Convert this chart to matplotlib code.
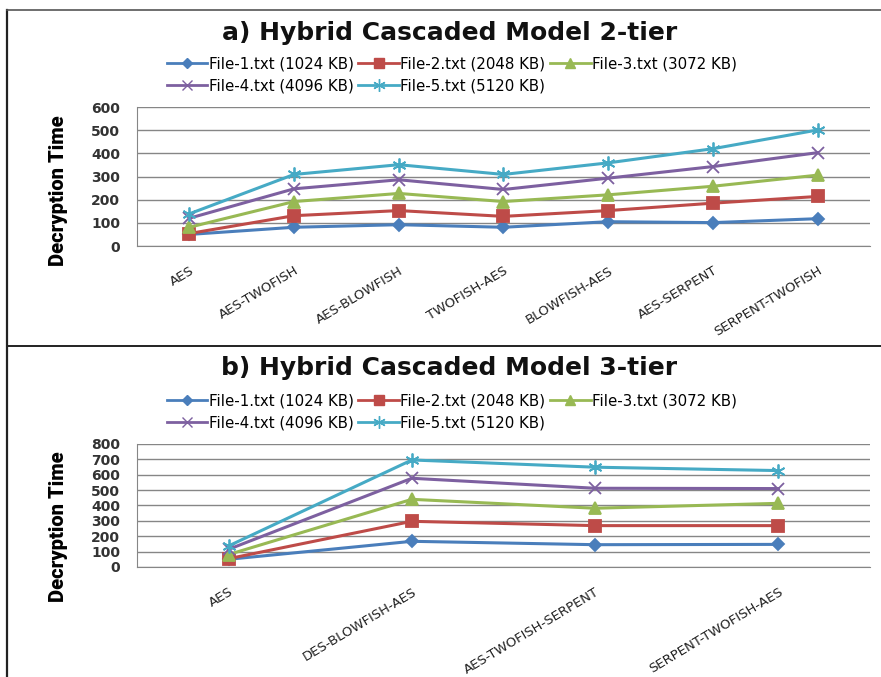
import numpy as np
import matplotlib
matplotlib.use("Agg")
import matplotlib.pyplot as plt
from matplotlib.lines import Line2D

plt.rcParams['font.family'] = ['DejaVu Sans']

# data
files = ['File-1.txt (1024 KB)', 'File-2.txt (2048 KB)', 'File-3.txt (3072 KB)',
         'File-4.txt (4096 KB)', 'File-5.txt (5120 KB)']

cats_2tier = ['AES', 'AES-TWOFISH', 'AES-BLOWFISH', 'TWOFISH-AES',
              'BLOWFISH-AES', 'AES-SERPENT', 'SERPENT-TWOFISH']
file1_2tier = [50, 81, 92, 81, 105, 101, 118]
file2_2tier = [54, 131, 153, 128, 153, 185, 214]
file3_2tier = [81, 192, 227, 192, 221, 258, 306]
file4_2tier = [120, 247, 286, 244, 293, 343, 403]
file5_2tier = [139, 309, 351, 309, 359, 420, 501]

cats_3tier = ['AES', 'DES-BLOWFISH-AES', 'AES-TWOFISH-SERPENT', 'SERPENT-TWOFISH-AES']
file1_3tier = [50, 167, 145, 147]
file2_3tier = [54, 297, 269, 269]
file3_3tier = [81, 440, 382, 414]
file4_3tier = [115, 577, 512, 510]
file5_3tier = [137, 696, 649, 627]

colors = ['#4A7EBB', '#BE4B48', '#98B954', '#7D60A0', '#46AAC5']
markers = ['D', 's', '^', 'x', (6, 2, 0)]
msizes = [6, 8, 8, 8, 10]


def draw_panel(fig, rect, cats, series, ymax, title, title_y, legend_y, ylab_y):
    ax = fig.add_axes(rect)
    x = np.arange(len(cats))
    for vals, c, m, ms in zip(series, colors, markers, msizes):
        ax.plot(x, vals, color=c, lw=2.2, marker=m, ms=ms,
                mew=1.3, mec=c, mfc=c)
    ax.set_xlim(-0.5, len(cats) - 0.5)
    ax.set_ylim(0, ymax)
    ax.set_yticks(np.arange(0, ymax + 1, 100))
    ax.yaxis.grid(True, color='#868686', lw=1)
    ax.set_axisbelow(True)
    for s in ['top', 'right']:
        ax.spines[s].set_visible(False)
    for s in ['left', 'bottom']:
        ax.spines[s].set_color('#868686')
    ax.set_xticks(x)
    ax.set_xticklabels(cats, rotation=31, ha='right', va='top',
                       rotation_mode='anchor', fontsize=9.5, color='#222222')
    ax.set_yticklabels([str(v) for v in ax.get_yticks().astype(int)],
                       fontsize=10, fontweight='bold', color='#333333')
    ax.tick_params(axis='both', length=0)
    ax.tick_params(axis='x', pad=13)
    ax.tick_params(axis='y', pad=12)
    ax.set_ylabel('Decryption Time', fontsize=14.5, fontweight='black',
                  family=['Roboto', 'DejaVu Sans'])
    ax.yaxis.set_label_coords(-0.094, ylab_y)
    fig.text(0.51, title_y, title, ha='center', va='center',
             fontsize=18, fontweight='bold', color='#111111')
    order = [0, 3, 1, 4, 2]
    leg_handles = [Line2D([], [], color=colors[i], lw=2, marker=markers[i],
                          ms=msizes[i] - 1, mec=colors[i], mfc=colors[i])
                   for i in order]
    fig.legend(leg_handles, [files[i] for i in order], ncol=3,
               loc='center', bbox_to_anchor=(0.513, legend_y), frameon=False,
               fontsize=10.8, handlelength=2.7, handletextpad=0.1,
               columnspacing=0.3, labelspacing=0.45, borderpad=0)
    return ax


fig = plt.figure(figsize=(8.81, 6.77), dpi=100)

draw_panel(fig, [0.1555, 0.6366, 0.832, 0.2053], cats_2tier,
           [file1_2tier, file2_2tier, file3_2tier, file4_2tier, file5_2tier],
           600, 'a) Hybrid Cascaded Model 2-tier', 1 - 33 / 677, 1 - 75 / 677, 0.40)

draw_panel(fig, [0.1555, 0.1625, 0.832, 0.1817], cats_3tier,
           [file1_3tier, file2_3tier, file3_3tier, file4_3tier, file5_3tier],
           800, 'b) Hybrid Cascaded Model 3-tier', 1 - 368 / 677, 1 - 412 / 677, 0.33)

# panel frames
fig.add_artist(Line2D([7 / 881, 7 / 881], [0, 1 - 10 / 677], color='#222222',
                      lw=1.6, transform=fig.transFigure))
fig.add_artist(Line2D([7 / 881, 1], [1 - 10 / 677, 1 - 10 / 677], color='#555555',
                      lw=1.2, transform=fig.transFigure))
fig.add_artist(Line2D([7 / 881, 1], [1 - 346 / 677, 1 - 346 / 677], color='#222222',
                      lw=1.4, transform=fig.transFigure))

fig.savefig('out.png', dpi=100)
